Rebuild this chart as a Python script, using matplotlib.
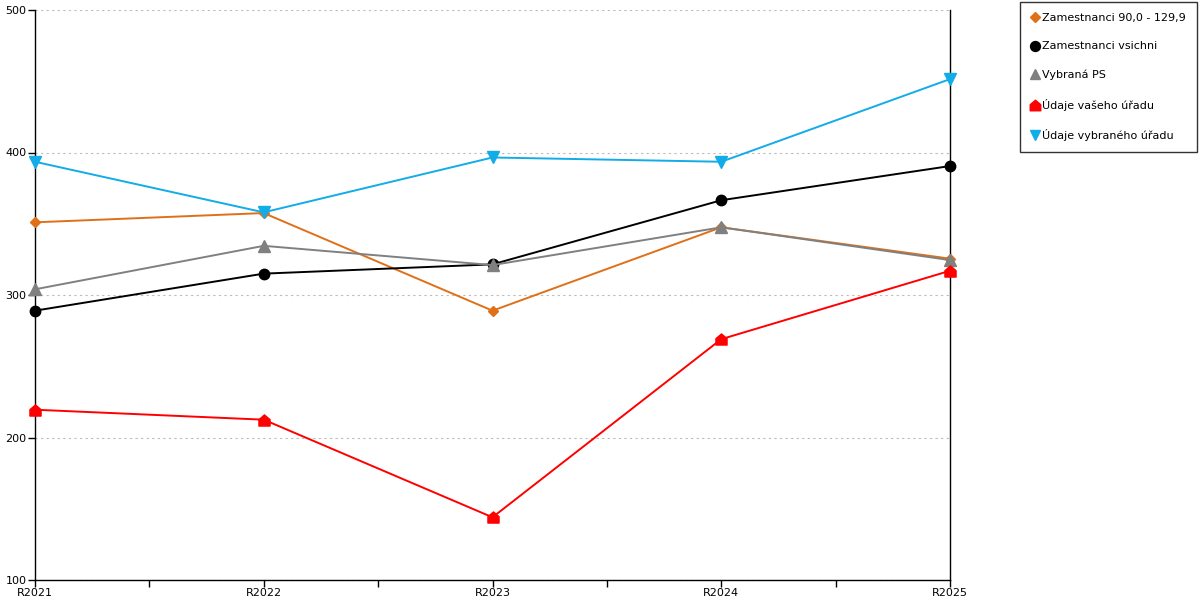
import numpy as np
import matplotlib
matplotlib.use("Agg")
import matplotlib.pyplot as plt
from matplotlib.lines import Line2D
from matplotlib.path import Path

years = ["R2021", "R2022", "R2023", "R2024", "R2025"]
zam_90 = [351, 357.5, 289, 347.5, 325.5]
zam_all = [289, 315, 321.5, 366.5, 390.5]
vybrana_ps = [304, 334.5, 321, 347.5, 324.5]
vas_urad = [219.5, 212.5, 144, 269, 317]
vybrany_urad = [393.5, 358, 396.5, 393.5, 451.5]

names = ["Zamestnanci 90,0 - 129,9", "Zamestnanci vsichni", "Vybraná PS",
         "Údaje vašeho úřadu", "Údaje vybraného úřadu"]

house = Path([(-1, -1), (1, -1), (1, 0.15), (0, 1), (-1, 0.15), (-1, -1)],
             [Path.MOVETO, Path.LINETO, Path.LINETO, Path.LINETO, Path.LINETO, Path.CLOSEPOLY])

styles = [
    ("#E07018", "D", 5.5),
    ("#000000", "o", 7.5),
    ("#808080", "^", 8),
    ("#FF0000", house, 8),
    ("#12ACE8", "v", 8),
]
series = [zam_90, zam_all, vybrana_ps, vas_urad, vybrany_urad]

fig = plt.figure(figsize=(12, 6), dpi=100)
ax = fig.add_axes([35/1200, 20/600, 915/1200, 570/600])
x = np.arange(len(years))

handles = []
for vals, (c, m, ms), name in zip(series, styles, names):
    ax.plot(x, vals, color=c, lw=1.4, marker=m, ms=ms, mec=c, mfc=c, clip_on=False, zorder=3)
    handles.append(Line2D([], [], ls="none", marker=m, color=c, ms=ms*0.95))

ax.set_xlim(0, 4)
ax.set_ylim(100, 500)
ax.set_xticks(x)
ax.set_xticklabels(years)
ax.set_xticks([0.5, 1.5, 2.5, 3.5], minor=True)
ax.set_yticks([100, 200, 300, 400, 500])
ax.tick_params(axis="both", which="both", direction="out", length=5, width=1,
               labelsize=8, pad=1, color="black")
ax.yaxis.grid(True, color="#bbbbbb", ls=(0, (2, 3)), lw=0.8)
ax.spines["top"].set_visible(False)
for s in ["left", "bottom", "right"]:
    ax.spines[s].set_linewidth(1)
ax.set_axisbelow(True)

leg = fig.legend(handles, names, loc="upper left", bbox_to_anchor=(1020/1200, 1 - 2/600),
                 fontsize=8, frameon=True, fancybox=False, edgecolor="black",
                 labelspacing=1.65, handlelength=0.7, handletextpad=0.3,
                 borderpad=1.0, borderaxespad=0)
leg.get_frame().set_linewidth(1)

fig.savefig("out.png", dpi=100)
